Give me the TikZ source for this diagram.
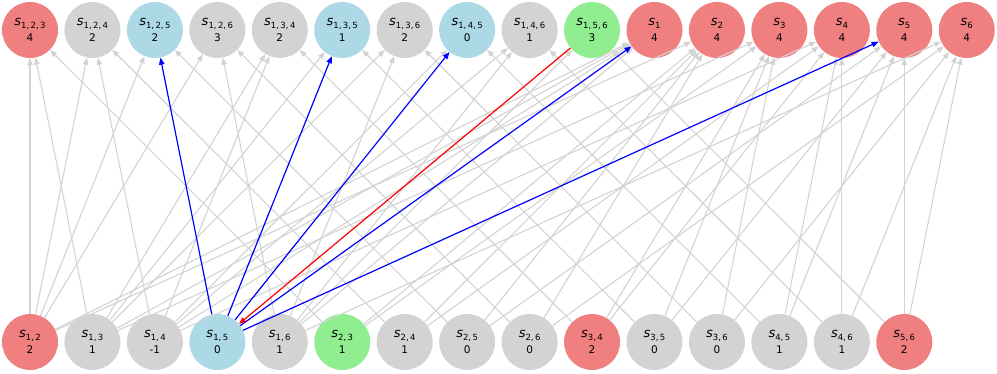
\documentclass[tikz,border=0pt]{standalone}
\usepackage{fontspec}
\setmainfont{DejaVu Sans}
\usetikzlibrary{arrows.meta}
\definecolor{lred}{HTML}{F08080}
\definecolor{lgray}{HTML}{D3D3D3}
\definecolor{lblue}{HTML}{ADD8E6}
\definecolor{lgreen}{HTML}{90EE90}
\newcommand{\slab}[2]{{\fontsize{13}{16}\selectfont\itshape s}\raisebox{-0.5ex}{\fontsize{8.5}{9}\selectfont #1}\\#2}
\begin{document}
\begin{tikzpicture}[x=1pt,y=1pt,
  nd/.style={circle,minimum size=56pt,inner sep=0pt,align=center,font=\fontsize{10.5}{16}\selectfont},
  cr/.style={nd,fill=lred},
  cg/.style={nd,fill=lgray},
  cb/.style={nd,fill=lblue},
  cn/.style={nd,fill=lgreen},
  tip/.style={-{Triangle[length=7pt,width=5.5pt]}},
  eg/.style={draw=lgray,line width=1.1pt,tip},
  eb/.style={draw=blue,line width=1.2pt,tip},
  er/.style={draw=red,line width=1.2pt,tip}]
\useasboundingbox (0,0) rectangle (997,373);
\foreach \n/\lab/\v/\c [count=\i from 0] in {123/{1,\,2,\,3}/4/cr,124/{1,\,2,\,4}/2/cg,125/{1,\,2,\,5}/2/cb,126/{1,\,2,\,6}/3/cg,134/{1,\,3,\,4}/2/cg,135/{1,\,3,\,5}/1/cb,136/{1,\,3,\,6}/2/cg,145/{1,\,4,\,5}/0/cb,146/{1,\,4,\,6}/1/cg,156/{1,\,5,\,6}/3/cn,1/1/4/cr,2/2/4/cr,3/3/4/cr,4/4/4/cr,5/5/4/cr,6/6/4/cr}
  \node[\c] (t\n) at ({30+62.45*\i},343) {\slab{\lab}{\v}};
\foreach \n/\lab/\v/\c [count=\i from 0] in {12/{1,\,2}/2/cr,13/{1,\,3}/1/cg,14/{1,\,4}/-1/cg,15/{1,\,5}/0/cb,16/{1,\,6}/1/cg,23/{2,\,3}/1/cn,24/{2,\,4}/1/cg,25/{2,\,5}/0/cg,26/{2,\,6}/0/cg,34/{3,\,4}/2/cr,35/{3,\,5}/0/cg,36/{3,\,6}/0/cg,45/{4,\,5}/1/cg,46/{4,\,6}/1/cg,56/{5,\,6}/2/cr}
  \node[\c] (b\n) at ({30+62.45*\i},31) {\slab{\lab}{\v}};
\foreach \s/\d in {12/123,13/123,23/123,12/124,14/124,24/124,12/125,25/125,12/126,16/126,26/126,13/134,14/134,34/134,13/135,35/135,13/136,16/136,36/136,14/145,45/145,14/146,16/146,46/146,16/156,56/156,12/1,13/1,14/1,16/1,12/2,23/2,24/2,25/2,26/2,13/3,23/3,34/3,35/3,36/3,14/4,24/4,34/4,45/4,46/4,25/5,35/5,45/5,56/5,16/6,26/6,36/6,46/6,56/6}
  \draw[eg] (b\s) -- (t\d);
\foreach \d in {125,135,145,1,5}
  \draw[eb] (b15) -- (t\d);
\draw[er] (t156) -- (b15);
\end{tikzpicture}
\end{document}
